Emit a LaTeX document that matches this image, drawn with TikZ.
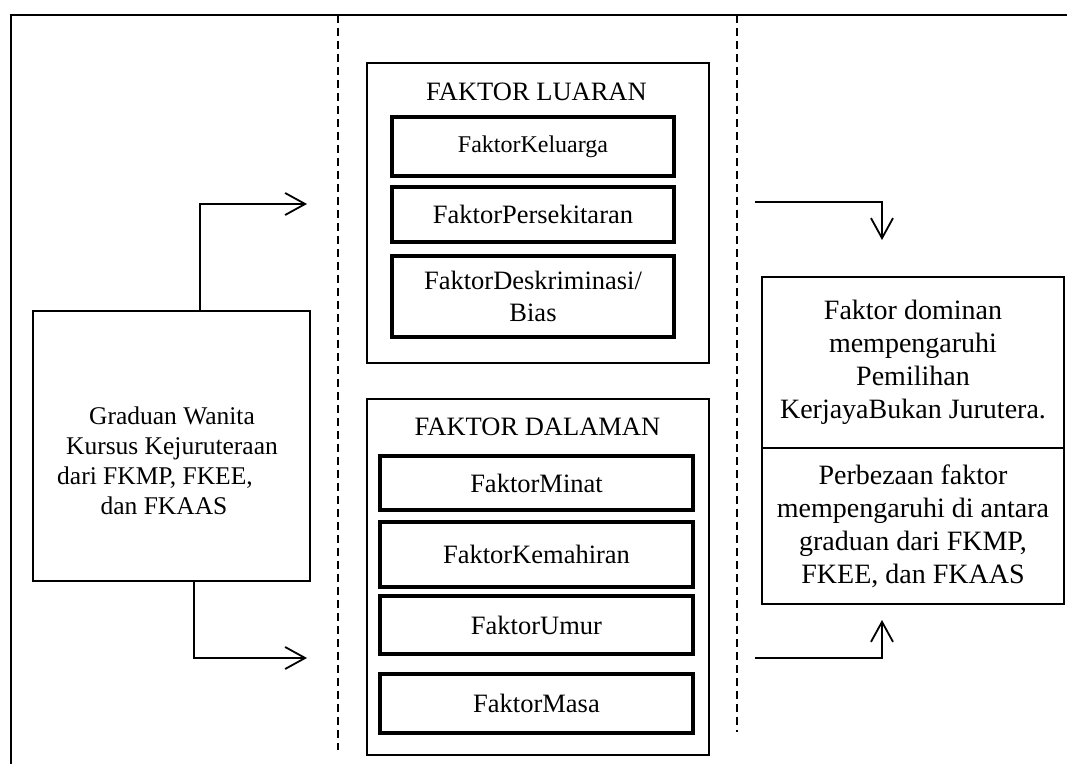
\documentclass[tikz,border=0pt]{standalone}
\usepackage{fontspec}
\setmainfont{Liberation Serif}
\usetikzlibrary{arrows.meta}

\begin{document}
\begin{tikzpicture}[x=0.5pt, y=-0.5pt]
		\tikzstyle{frame} = [rectangle, draw, line width=0.9pt, inner sep=0pt, align=center]
		\tikzstyle{factor} = [rectangle, draw, line width=2pt, inner sep=0pt, align=center, font=\fontsize{13.25}{16}\selectfont]
		\tikzstyle{heading} = [align=center, font=\fontsize{13.25}{16}\selectfont]
		\tikzstyle{connector} = [draw, line width=0.9pt, -{Straight Barb[length=10pt, width=11pt]}]
		\tikzstyle{divider} = [draw, line width=0.9pt, dash pattern=on 4pt off 2.5pt]
		\useasboundingbox (0,0) rectangle (1067,764);
		\draw [line width=0.9pt] (11,764) -- (11,15) -- (1067,15);
		\path [divider] (338,15) -- (338,750);
		\path [divider] (737,15) -- (737,732);
		\node [frame, minimum width=138.5pt, minimum height=135pt] at (171.5,446) (graduan) {};
		\node [align=center, font=\fontsize{12.75}{15}\selectfont] at (172,461) (graduantext) {Graduan Wanita\\Kursus Kejuruteraan\\dari FKMP, FKEE,\rule{17pt}{0pt}\\dan FKAAS\rule{8pt}{0pt}};
		\node [frame, minimum width=171pt, minimum height=150pt] at (538,213) (luaran) {};
		\node [heading] at (536.5,92) (luarantitle) {FAKTOR LUARAN};
		\node [factor, minimum width=141pt, minimum height=29.5pt, font=\fontsize{12}{14}\selectfont] at (533,146.5) (keluarga) {FaktorKeluarga};
		\node [factor, minimum width=141pt, minimum height=27.5pt] at (533,214.5) (persekitaran) {FaktorPersekitaran};
		\node [factor, minimum width=141pt, minimum height=40.5pt] at (533,296.5) (deskriminasi) {FaktorDeskriminasi/\\Bias};
		\node [frame, minimum width=171pt, minimum height=178pt] at (538,577) (dalaman) {};
		\node [heading] at (537.5,427) (dalamantitle) {FAKTOR DALAMAN};
		\node [factor, minimum width=156.5pt, minimum height=27pt] at (536.5,483) (minat) {FaktorMinat};
		\node [factor, minimum width=156.5pt, minimum height=32.5pt] at (536.5,554.5) (kemahiran) {FaktorKemahiran};
		\node [factor, minimum width=156.5pt, minimum height=29pt] at (536.5,625) (umur) {FaktorUmur};
		\node [factor, minimum width=156.5pt, minimum height=29.5pt] at (536.5,703.5) (masa) {FaktorMasa};
		\node [frame, minimum width=151pt, minimum height=85.5pt, font=\fontsize{14}{16.5}\selectfont] at (913,362.5) (dominan) {Faktor dominan\\mempengaruhi\\Pemilihan\\KerjayaBukan Jurutera.};
		\node [frame, minimum width=151pt, minimum height=78pt, font=\fontsize{14}{16.5}\selectfont] at (913,526) (perbezaan) {Perbezaan faktor\\mempengaruhi di antara\\graduan dari FKMP,\\FKEE, dan FKAAS};
		\coordinate (upturn) at (200,204);
		\coordinate (luaranin) at (307,204);
		\coordinate (downturn) at (194,658);
		\coordinate (dalamanin) at (307,658);
		\coordinate (luaranout) at (755,202);
		\coordinate (dominanin) at (882,240);
		\coordinate (dalamanout) at (755,658);
		\coordinate (perbezaanin) at (882,620);
		\path [connector] (graduan.north -| upturn) |- (luaranin);
		\path [connector] (graduan.south -| downturn) |- (dalamanin);
		\path [connector] (luaranout) -| (dominanin);
		\path [connector] (dalamanout) -| (perbezaanin);
	\end{tikzpicture}
\end{document}
